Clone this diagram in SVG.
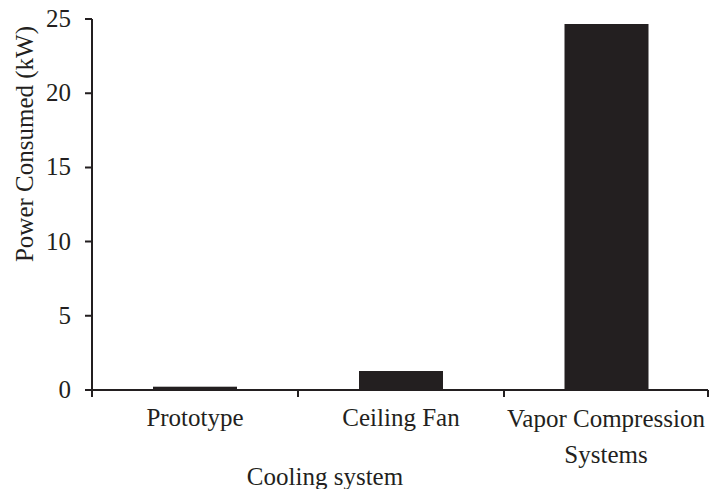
<svg xmlns="http://www.w3.org/2000/svg" width="709" height="489" viewBox="0 0 709 489">
  <style>
    text { font-family: "Liberation Serif", "Times New Roman", serif; font-size: 25px; fill: #231f20; }
    .axis { stroke: #231f20; stroke-width: 2; fill: none; }
    .bar { fill: #231f20; }
    .ytick { text-anchor: end; }
    .xlab { text-anchor: middle; }
  </style>
  <rect width="709" height="489" fill="#ffffff"/>

  <!-- axes and ticks -->
  <g id="axes">
    <path class="axis" d="M92,19 V391 M91,390 H708"/>
    <path class="axis" d="M85,19 H92 M85,93.2 H92 M85,167.4 H92 M85,241.6 H92 M85,315.8 H92 M85,390 H92"/>
    <path class="axis" d="M92,390 V397 M298,390 V397 M504,390 V397 M708,390 V397"/>
  </g>

  <!-- y tick labels -->
  <g id="y-labels">
    <text class="ytick" x="71" y="27">25</text>
    <text class="ytick" x="71" y="101">20</text>
    <text class="ytick" x="71" y="175">15</text>
    <text class="ytick" x="71" y="249.5">10</text>
    <text class="ytick" x="71" y="323.5">5</text>
    <text class="ytick" x="71" y="398">0</text>
  </g>

  <!-- bars -->
  <g id="bar-prototype"><rect class="bar" x="153" y="386.7" width="84" height="3.3"/></g>
  <g id="bar-ceiling-fan"><rect class="bar" x="359" y="371" width="84" height="19"/></g>
  <g id="bar-vapor-compression"><rect class="bar" x="564.5" y="24" width="84" height="366"/></g>

  <!-- category labels -->
  <g id="x-labels">
    <text class="xlab" x="195" y="426">Prototype</text>
    <text class="xlab" x="401" y="426">Ceiling Fan</text>
    <text class="xlab" x="606" y="427">Vapor Compression</text>
    <text class="xlab" x="606" y="463">Systems</text>
  </g>

  <!-- axis titles -->
  <text id="x-title" x="325" y="485" text-anchor="middle">Cooling system</text>
  <text id="y-title" transform="translate(33,144) rotate(-90)" text-anchor="middle">Power Consumed (kW)</text>
</svg>
